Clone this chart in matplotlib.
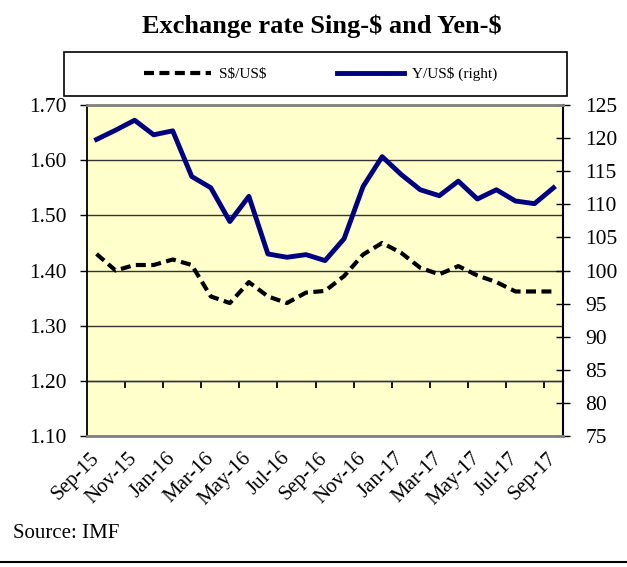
import matplotlib; matplotlib.use('agg')
import matplotlib.pyplot as plt
from matplotlib.patches import Rectangle
from matplotlib.lines import Line2D
import numpy as np

plt.rcParams['font.family'] = ['Liberation Serif', 'DejaVu Serif']

# monthly values, Sep-15 .. Sep-17
months = ['Sep-15', 'Oct-15', 'Nov-15', 'Dec-15', 'Jan-16', 'Feb-16', 'Mar-16',
          'Apr-16', 'May-16', 'Jun-16', 'Jul-16', 'Aug-16', 'Sep-16', 'Oct-16',
          'Nov-16', 'Dec-16', 'Jan-17', 'Feb-17', 'Mar-17', 'Apr-17', 'May-17',
          'Jun-17', 'Jul-17', 'Aug-17', 'Sep-17']
sgd = [1.43, 1.40, 1.41, 1.41, 1.42, 1.41, 1.353, 1.341, 1.379, 1.353, 1.341,
       1.36, 1.363, 1.39, 1.429, 1.45, 1.432, 1.405, 1.393, 1.408, 1.391,
       1.379, 1.362, 1.362, 1.362]
jpy = [119.8, 121.2, 122.7, 120.5, 121.1, 114.2, 112.5, 107.4, 111.2, 102.5,
       102.0, 102.4, 101.5, 104.8, 112.7, 117.2, 114.5, 112.2, 111.3, 113.5,
       110.8, 112.2, 110.5, 110.1, 112.5]
left_ticks = [1.10, 1.20, 1.30, 1.40, 1.50, 1.60, 1.70]
right_ticks = [75, 80, 85, 90, 95, 100, 105, 110, 115, 120, 125]

fig = plt.figure(figsize=(6.27, 5.67), dpi=100)
ax = fig.add_axes([0.1388, 0.2310, 0.7592, 0.5838])
ax.set_facecolor('#ffffcc')
x = np.arange(len(months))

l1, = ax.plot(x, sgd, color='black', lw=3.0, ls=(0, (2.4, 1.3)))
ax.set_xlim(-0.5, len(months) - 0.5)
ax.set_ylim(1.10, 1.70)
ax.set_yticks(left_ticks, ['%.2f' % v for v in left_ticks])
ax.tick_params(axis='y', direction='out', length=5, width=1, pad=10, labelsize=15.5)
ax.yaxis.grid(True, color='#333333', lw=1.0)
ax.set_axisbelow(True)
for s in ['top', 'right', 'bottom']:
    ax.spines[s].set_visible(False)
ax.spines['left'].set_linewidth(1.3)

# month labels every second month
ax.set_xticks(x[::2], months[::2], rotation=45, ha='right', va='center',
              rotation_mode='anchor')
ax.tick_params(axis='x', length=0, pad=14, labelsize=15)

# category axis line crosses at 1.20 with ticks between every 2nd month
xax = ax.secondary_xaxis((1.20 - 1.10) / 0.60)
xax.set_xticks(np.arange(1.5, len(months) - 1, 2))
xax.tick_params(axis='x', direction='out', length=5, width=1.3, color='black',
                labelbottom=False)
xax.spines['bottom'].set_color('#333333')
xax.spines['bottom'].set_linewidth(1.0)

ax2 = ax.twinx()
l2, = ax2.plot(x, jpy, color='#000080', lw=3.5)
ax2.set_ylim(75, 125)
ax2.set_yticks(right_ticks)
ax2.tick_params(axis='y', direction='inout', length=10, width=1, pad=11, labelsize=15.5)
ax2.spines['right'].set_linewidth(1.5)
ax2.spines['left'].set_visible(False)
for s in ['top', 'bottom']:
    ax2.spines[s].set_color('#808080')
    ax2.spines[s].set_linewidth(2)

fig.text(0.514, 1 - 26 / 567, r'Exchange rate Sing-\$ and Yen-\$', ha='center',
         va='center', fontsize=19, fontweight='bold')

# legend box above the plot
fig.add_artist(Rectangle((64 / 627, 1 - 96 / 567), 503 / 627, 44 / 567,
                         transform=fig.transFigure, fill=False, ec='black', lw=1.2))
fig.legend([l1, l2], [r'S\$/US\$', r'Y/US\$ (right)'], loc='center',
           bbox_to_anchor=(0.511, 1 - 74 / 567), ncol=2, frameon=False,
           fontsize=11, handlelength=4.4, columnspacing=4.6, handletextpad=0.5)

fig.text(13 / 627, 1 - 533 / 567, 'Source: IMF', va='center', fontsize=15)
fig.add_artist(Line2D([0, 1], [1 - 562 / 567] * 2, transform=fig.transFigure,
                      color='black', lw=1.5))

plt.savefig('out.png', dpi=100)
